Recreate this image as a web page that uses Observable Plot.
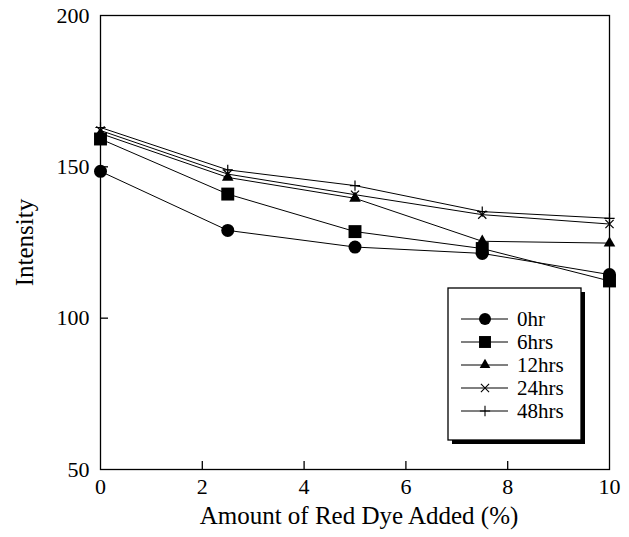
<!DOCTYPE html>
<html>
<head>
<meta charset="utf-8">
<script src="https://cdn.jsdelivr.net/npm/d3@7"></script>
<script src="https://cdn.jsdelivr.net/npm/@observablehq/plot@0.6"></script>
<style>
  html, body { margin: 0; padding: 0; background: #fff; }
  svg { display: block; }
  svg, svg text { font-family: "Liberation Serif", "DejaVu Serif", serif !important; }
</style>
</head>
<body>
<div id="chart"></div>
<script>
const dyeAmount = [0, 2.5, 5, 7.5, 10];
const seriesNames = ["0hr", "6hrs", "12hrs", "24hrs", "48hrs"];
const intensity0hr  = [148.5, 129.0, 123.5, 121.4, 114.4];
const intensity6hrs = [159.2, 141.0, 128.6, 123.0, 112.3];
const intensity12hrs = [161.0, 146.5, 139.6, 125.4, 124.8];
const intensity24hrs = [162.0, 147.6, 140.8, 134.2, 131.1];
const intensity48hrs = [163.0, 149.0, 143.8, 135.2, 133.0];
const yTicks = [50, 100, 150, 200];
const xTicks = [0, 2, 4, 6, 8, 10];
const xLabel = "Amount of Red Dye Added (%)";
const yLabel = "Intensity";

const seriesValues = [intensity0hr, intensity6hrs, intensity12hrs, intensity24hrs, intensity48hrs];
const styles = [
  {symbol: "circle", r: 6.5, filled: true},
  {symbol: "square", r: 7.3, filled: true},
  {symbol: "triangle", r: 4.3, filled: true},
  {symbol: "times", r: 3.8, filled: false},
  {symbol: "plus", r: 3.4, filled: false}
];
const data = seriesNames.flatMap((s, i) => dyeAmount.map((x, j) => ({series: s, x, y: seriesValues[i][j]})));

const font = "Liberation Serif, DejaVu Serif, serif";

const marks = [
  Plot.frame({stroke: "black", strokeWidth: 1.3}),
  Plot.axisY({ticks: yTicks, tickSize: 0, tickPadding: 11, fontSize: 22, tickFormat: d => d, label: null}),
  Plot.axisY({ticks: [100, 150], tickSize: -8, text: null, strokeWidth: 1.3, label: null}),
  Plot.axisX({ticks: xTicks, tickSize: 0, tickPadding: 9, fontSize: 22, tickFormat: d => d, label: null}),
  Plot.axisX({ticks: [2, 4, 6, 8], tickSize: -8, text: null, strokeWidth: 1.3, label: null}),
  Plot.text([xLabel], {frameAnchor: "bottom", textAnchor: "middle", dy: 54, dx: 4, fontSize: 25, fill: "black"}),
  Plot.text([yLabel], {frameAnchor: "left", textAnchor: "middle", dx: -76, rotate: -90, fontSize: 25, fill: "black"})
];
seriesNames.forEach((s, i) => {
  const d = data.filter(e => e.series === s);
  marks.push(Plot.line(d, {x: "x", y: "y", stroke: "black", strokeWidth: 1}));
});
seriesNames.forEach((s, i) => {
  const d = data.filter(e => e.series === s);
  const st = styles[i];
  marks.push(Plot.dot(d, st.filled
    ? {x: "x", y: "y", symbol: () => st.symbol, r: st.r, fill: "black", stroke: "none"}
    : {x: "x", y: "y", symbol: () => st.symbol, r: st.r, stroke: "black", strokeWidth: 1.2, fill: "none"}));
});

const chart = Plot.plot({
  width: 629,
  height: 537,
  marginLeft: 100,
  marginRight: 20,
  marginTop: 15,
  marginBottom: 68,
  x: {domain: [0, 10], axis: null},
  y: {domain: [50, 200], axis: null},
  symbol: {type: "identity"},
  style: "font-family: 'Liberation Serif', 'DejaVu Serif', serif; color: black; background: white; overflow: visible;",
  marks
});

// Legend (boxed, with drop shadow), drawn into the same SVG
const svg = d3.select(chart);
const lg = svg.append("g").attr("transform", "translate(448,288)");
const boxW = 133, boxH = 152;
lg.append("rect").attr("x", 4).attr("y", 4).attr("width", boxW).attr("height", boxH).attr("fill", "black");
lg.append("rect").attr("x", 0).attr("y", 0).attr("width", boxW).attr("height", boxH)
  .attr("fill", "white").attr("stroke", "black").attr("stroke-width", 1.3);
const symbolTypes = {circle: d3.symbolCircle, square: d3.symbolSquare, triangle: d3.symbolTriangle, times: d3.symbolTimes, plus: d3.symbolPlus};
seriesNames.forEach((s, i) => {
  const st = styles[i];
  const yy = 31 + i * 23;
  const row = lg.append("g").attr("transform", `translate(0,${yy})`);
  row.append("line").attr("x1", 13).attr("x2", 60).attr("y1", 0).attr("y2", 0).attr("stroke", "black").attr("stroke-width", 1);
  row.append("path")
    .attr("transform", "translate(37,0)")
    .attr("d", d3.symbol(symbolTypes[st.symbol], Math.PI * st.r * st.r * (st.filled ? 0.85 : 1))())
    .attr("fill", st.filled ? "black" : "none")
    .attr("stroke", st.filled ? "none" : "black")
    .attr("stroke-width", 1.1);
  row.append("text").attr("x", 69).attr("y", 0).attr("dy", "0.35em")
    .attr("text-anchor", "start")
    .attr("font-size", 21).attr("font-family", font).attr("fill", "black").text(s);
});

document.getElementById("chart").appendChild(chart);
</script>
</body>
</html>
